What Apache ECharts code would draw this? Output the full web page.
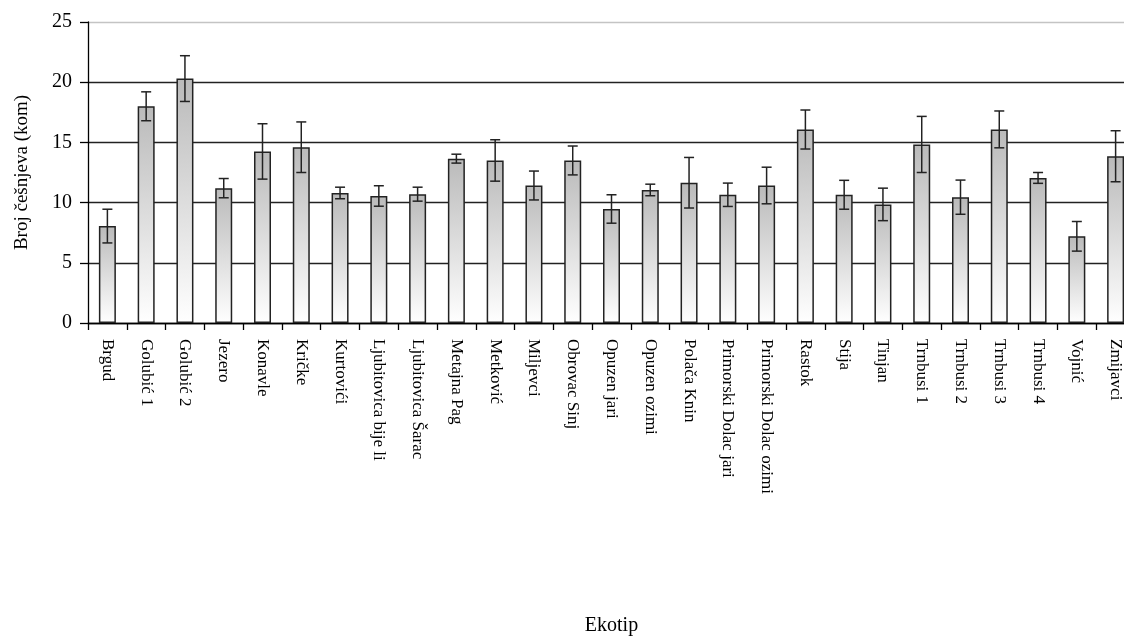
<!DOCTYPE html>
<html>
<head>
<meta charset="utf-8">
<script src="https://cdn.jsdelivr.net/npm/echarts@6/dist/echarts.min.js"></script>
<style>
html,body{margin:0;padding:0;background:#fff;}
#chart{width:1124px;height:639px;}
</style>
</head>
<body>
<div id="chart"></div>
<script>
const categories = ['Brgud','Golubić 1','Golubić 2','Jezero','Konavle','Kričke','Kurtovići','Ljubitovica bije li','Ljubitovica Šarac','Metajna Pag','Metković','Miljevci','Obrovac Sinj','Opuzen jari','Opuzen ozimi','Polača Knin','Primorski Dolac jari','Primorski Dolac ozimi','Rastok','Stija','Tinjan','Trnbusi 1','Trnbusi 2','Trnbusi 3','Trnbusi 4','Vojnić','Zmijavci'];
const means = [8.05,18.0,20.3,11.2,14.25,14.6,10.8,10.55,10.7,13.65,13.5,11.42,13.5,9.47,11.05,11.65,10.65,11.42,16.07,10.65,9.85,14.83,10.45,16.08,12.05,7.2,13.85];
const errors = [1.4,1.2,1.9,0.8,2.3,2.1,0.48,0.85,0.58,0.37,1.72,1.2,1.2,1.18,0.48,2.1,0.97,1.52,1.62,1.2,1.35,2.33,1.42,1.53,0.45,1.23,2.12];
const yTicks = [0,5,10,15,20,25];

const FONT = 'Liberation Serif';
const chart = echarts.init(document.getElementById('chart'), null, {renderer:'canvas'});
const errData = means.map((m,i)=>[i, m - errors[i], m + errors[i]]);

chart.setOption({
  animation:false,
  backgroundColor:'#fff',
  grid:{left:88, right:-11, top:22, bottom:316, containLabel:false, outerBoundsMode:'none'},
  xAxis:{
    type:'category',
    data:categories,
    boundaryGap:true,
    name:'Ekotip',
    nameLocation:'middle',
    nameGap:293,
    nameTextStyle:{fontFamily:FONT, fontSize:20, color:'#000'},
    axisLine:{lineStyle:{color:'#000', width:1.3}},
    axisTick:{show:true, length:7, lineStyle:{color:'#000', width:1.3}},
    axisLabel:{rotate:-90, margin:16, fontFamily:FONT, fontSize:17, color:'#000', interval:0}
  },
  yAxis:{
    type:'value',
    min:yTicks[0], max:yTicks[yTicks.length-1], interval:5,
    name:'Broj češnjeva (kom)',
    nameLocation:'middle',
    nameGap:56,
    nameTextStyle:{fontFamily:FONT, fontSize:19, color:'#000'},
    axisLine:{show:true, lineStyle:{color:'#000', width:1.3}},
    axisTick:{show:true, inside:false, length:8, lineStyle:{color:'#000', width:1.3}},
    axisLabel:{margin:16, fontFamily:FONT, fontSize:20, color:'#000',
      formatter:(v)=> yTicks.indexOf(v) >= 0 ? String(v) : ''},
    splitLine:{show:true, lineStyle:{color:['#000','#222','#222','#222','#222','#c4c4c4'], width:1.3}}
  },
  series:[
    {
      type:'bar',
      data:means,
      barWidth:17,
      itemStyle:{
        color:new echarts.graphic.LinearGradient(0,0,0,1,[
          {offset:0, color:'#bababa'},
          {offset:1, color:'#ffffff'}
        ]),
        borderColor:'#222',
        borderWidth:1.5
      }
    },
    {
      type:'custom',
      data:errData,
      z:10,
      renderItem:function(params, api){
        const x = api.value(0);
        const lo = api.coord([x, api.value(1)]);
        const hi = api.coord([x, api.value(2)]);
        const hw = 5;
        const style = {stroke:'#222', lineWidth:1.5, fill:null};
        return {
          type:'group',
          children:[
            {type:'line', shape:{x1:hi[0], y1:hi[1], x2:lo[0], y2:lo[1]}, style:style},
            {type:'line', shape:{x1:hi[0]-hw, y1:hi[1], x2:hi[0]+hw, y2:hi[1]}, style:style},
            {type:'line', shape:{x1:lo[0]-hw, y1:lo[1], x2:lo[0]+hw, y2:lo[1]}, style:style}
          ]
        };
      }
    }
  ]
});
</script>
</body>
</html>
